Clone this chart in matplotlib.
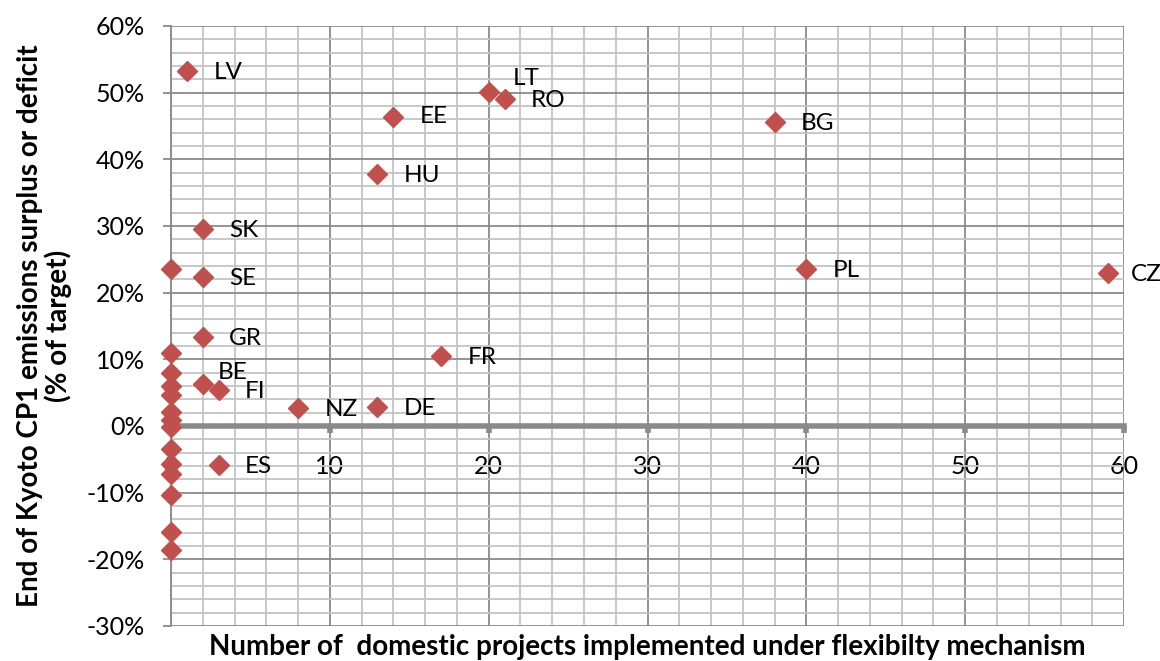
import numpy as np
import matplotlib
matplotlib.use("Agg")
import matplotlib.pyplot as plt
from matplotlib.ticker import MultipleLocator, FuncFormatter

# labelled countries
countries = ["LV", "LT", "RO", "EE", "BG", "HU", "SK", "SE", "PL", "CZ",
             "GR", "FR", "BE", "FI", "NZ", "DE", "ES"]
projects = [1, 20, 21, 14, 38, 13, 2, 2, 40, 59, 2, 17, 2, 3, 8, 13, 3]
surplus = [53.3, 50.1, 49.1, 46.4, 45.6, 37.8, 29.5, 22.3, 23.6, 23.0,
           13.4, 10.5, 6.3, 5.4, 2.7, 2.9, -5.9]

# unlabelled countries with no projects
zero_surplus = [23.5, 10.9, 8.0, 6.0, 4.7, 2.1, 0.9, -0.1, -3.4, -5.7,
                -7.2, -10.4, -15.9, -18.6]

# label offsets in points (styling)
offsets = {"LT": (17, 10), "BE": (11, 8), "EE": (19, 0), "CZ": (16, -1)}

plt.rcParams['font.family'] = ['Lato', 'DejaVu Sans']

fig = plt.figure(figsize=(11.6, 6.61), dpi=100)
ax = fig.add_axes([0.1474, 0.053, 0.8216, 0.9077])

red = "#c0504d"
ax.plot([0] * len(zero_surplus), zero_surplus, "D", color=red, ms=10,
        mec=red, zorder=5, clip_on=False)
ax.plot(projects, surplus, "D", color=red, ms=10, mec=red, zorder=5,
        clip_on=False)

for c, x, y in zip(countries, projects, surplus):
    dx, dy = offsets.get(c, (19, -1))
    ax.annotate(c, (x, y), xytext=(dx, dy), textcoords="offset points",
                ha="left", va="center", fontsize=17.5, zorder=6)

ax.set_xlim(0, 60)
ax.set_ylim(-30, 60)
ax.xaxis.set_major_locator(MultipleLocator(10))
ax.xaxis.set_minor_locator(MultipleLocator(2))
ax.yaxis.set_major_locator(MultipleLocator(10))
ax.yaxis.set_minor_locator(MultipleLocator(2))
ax.yaxis.set_major_formatter(FuncFormatter(lambda v, p: "%d%%" % v))

ax.grid(which="major", color="#8a8a8a", lw=1.3, zorder=0)
ax.grid(which="minor", color="#c4c4c4", lw=1.3, zorder=0)
ax.set_axisbelow(True)

for s in ["top", "right"]:
    ax.spines[s].set_visible(False)
ax.spines["left"].set_color("#8a8a8a")
ax.spines["left"].set_linewidth(1.3)
ax.spines["bottom"].set_position(("data", 0))
ax.spines["bottom"].set_color("#8a8a8a")
ax.spines["bottom"].set_linewidth(4)
ax.spines["bottom"].set_zorder(3)

ax.tick_params(axis="x", which="major", direction="out", length=5, width=4,
               color="#8a8a8a", pad=16, labelsize=18)
ax.tick_params(axis="y", which="major", direction="out", length=6, width=1.3,
               color="#8a8a8a", pad=13, labelsize=18)
ax.tick_params(which="minor", length=0)

ax.set_xlabel("Number of  domestic projects implemented under flexibilty mechanism",
              fontsize=20, fontweight="bold")
ax.xaxis.set_label_coords(0.5, -0.014)
ax.set_ylabel("End of Kyoto CP1 emissions surplus or deficit\n(% of target)",
              fontsize=20, fontweight="bold", linespacing=1.05)
ax.yaxis.set_label_coords(-0.104, 0.5)

fig.savefig("out.png", dpi=100)
